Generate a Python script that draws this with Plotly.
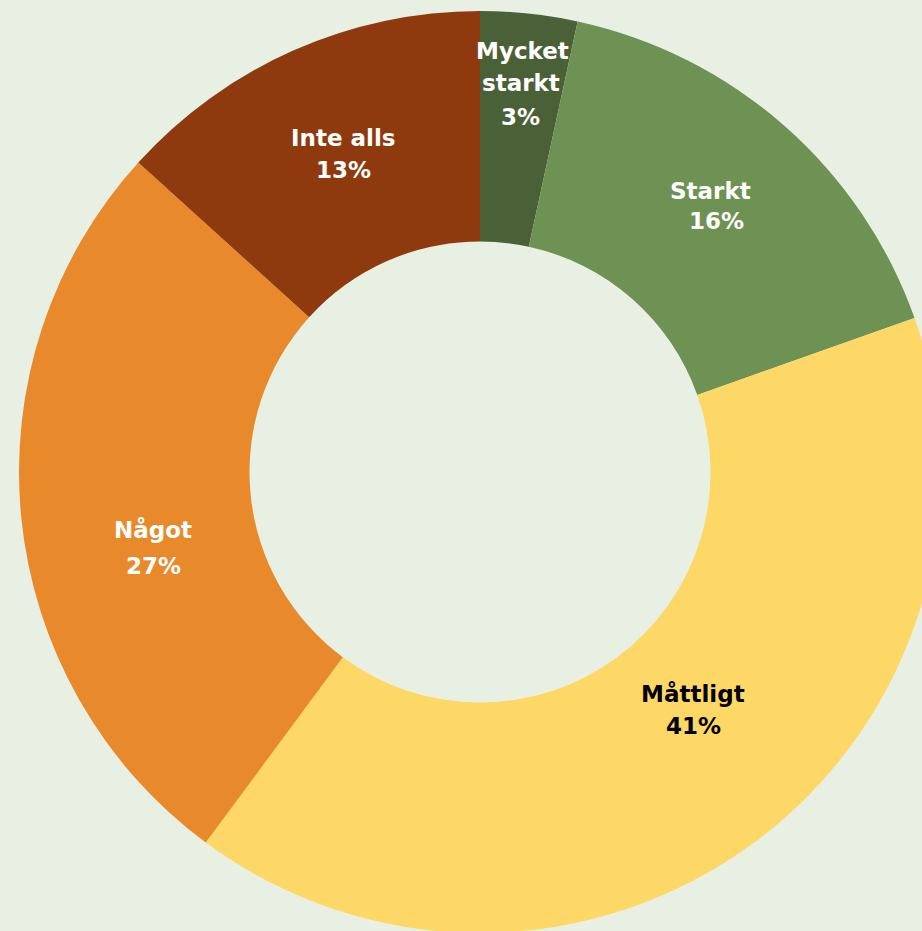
import plotly.graph_objects as go

labels = ["Mycket starkt", "Starkt", "Måttligt", "Något", "Inte alls"]
values = [3.4, 16.2, 40.6, 26.6, 13.3]
colors = ["#4A6138", "#6E9154", "#FED866", "#E8892B", "#8F3A0E"]
text_colors = ["white", "white", "black", "white", "white"]

# label layout (pixel positions of each text line: list of (x, y) per line)
label_lines = [
    ["Mycket", "starkt"],
    ["Starkt"],
    ["Måttligt"],
    ["Något"],
    ["Inte alls"],
]
label_pos = [
    [(522, 51), (521, 83), (520, 117)],
    [(710, 191), (716, 221)],
    [(693, 694), (693, 726)],
    [(153, 530), (153, 566)],
    [(343, 138), (343, 170)],
]

W, H = 960, 944
FONT = "DejaVu Sans, sans-serif"

fig = go.Figure(go.Pie(
    labels=labels,
    values=values,
    hole=0.5,
    sort=False,
    direction="clockwise",
    rotation=0,
    marker=dict(colors=colors, line=dict(width=0)),
    textinfo="none",
    hoverinfo="label+percent",
    showlegend=False,
    domain=dict(x=[0, 1], y=[11 / H, 1 - 11 / H]),
))

total = sum(values)
annotations = []
for name_lines, pos, v, c in zip(label_lines, label_pos, values, text_colors):
    texts = name_lines + [f"{round(100 * v / total)}%"]
    for t, (px, py) in zip(texts, pos):
        annotations.append(dict(
            x=px / W, y=1 - py / H, xref="paper", yref="paper",
            text=f"<b>{t}</b>", showarrow=False,
            xanchor="center", yanchor="middle",
            font=dict(family=FONT, size=23, color=c),
        ))

fig.update_layout(
    width=W, height=H,
    margin=dict(l=0, r=0, t=0, b=0),
    paper_bgcolor="#E8F0E3",
    plot_bgcolor="#E8F0E3",
    annotations=annotations,
)

fig.write_html(
    "out.html",
    config={"displayModeBar": False},
    post_script="document.body.style.margin='0';document.body.style.overflow='hidden';document.documentElement.style.overflow='hidden';",
)
